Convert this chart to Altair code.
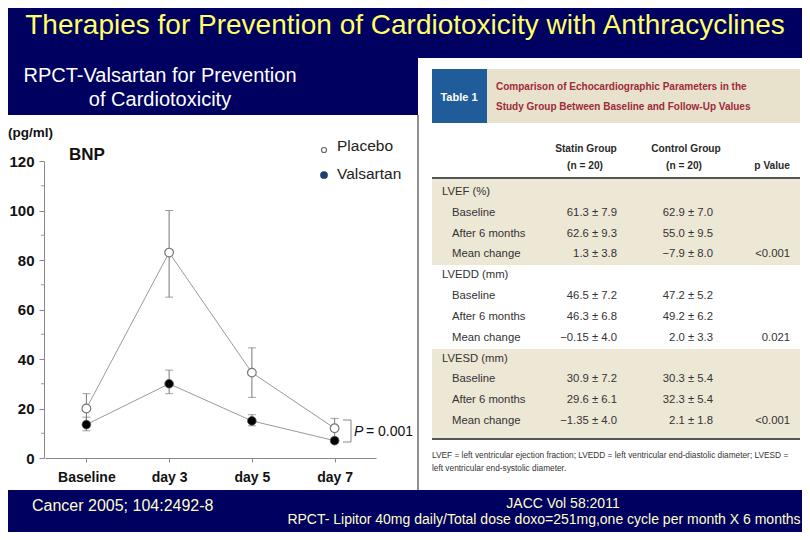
import altair as alt
import pandas as pd

# ---------------- data ----------------
TIMEPOINTS = ["Baseline", "day 3", "day 5", "day 7"]
PLACEBO_MEAN = [20, 83, 34.5, 12]
PLACEBO_LO = [14, 65, 24.5, 8]
PLACEBO_HI = [26, 100, 44.5, 16]
VALSARTAN_MEAN = [13.5, 30, 15, 7]
VALSARTAN_LO = [11, 26, 13, 6]
VALSARTAN_HI = [16.5, 35.5, 17.5, 8]
Y_TICKS = [0, 20, 40, 60, 80, 100, 120]
Y_MINOR = [10, 30, 50, 70, 90, 110]

TABLE_LABELS = ["LVEF (%)", "Baseline", "After 6 months", "Mean change",
                "LVEDD (mm)", "Baseline", "After 6 months", "Mean change",
                "LVESD (mm)", "Baseline", "After 6 months", "Mean change"]
TABLE_STATIN = ["", "61.3 ± 7.9", "62.6 ± 9.3", "1.3 ± 3.8",
                "", "46.5 ± 7.2", "46.3 ± 6.8", "−0.15 ± 4.0",
                "", "30.9 ± 7.2", "29.6 ± 6.1", "−1.35 ± 4.0"]
TABLE_CONTROL = ["", "62.9 ± 7.0", "55.0 ± 9.5", "−7.9 ± 8.0",
                 "", "47.2 ± 5.2", "49.2 ± 6.2", "2.0 ± 3.3",
                 "", "30.3 ± 5.4", "32.3 ± 5.4", "2.1 ± 1.8"]
TABLE_P = ["", "", "", "<0.001", "", "", "", "0.021", "", "", "", "<0.001"]

# ---------------- styles ----------------
NAVY = "#000060"
NARROW = "Liberation Sans Narrow, Arial Narrow, Liberation Sans, Arial, sans-serif"
ARIAL = "Liberation Sans, Arial, sans-serif"
W, H = 794, 524

one = pd.DataFrame({"a": [0]})


def rect(x1, x2, y1, y2, color):
    return alt.Chart(one).mark_rect(color=color).encode(
        x=alt.value(x1), x2=alt.value(x2), y=alt.value(y1), y2=alt.value(y2))


def rule(x1, x2, y1, y2, color, width=1):
    return alt.Chart(one).mark_rule(color=color, strokeWidth=width).encode(
        x=alt.value(x1), x2=alt.value(x2), y=alt.value(y1), y2=alt.value(y2))


def txt(s, x, y, size, color, font=ARIAL, weight="normal", align="left", style="normal"):
    return alt.Chart(one).mark_text(
        text=s, align=align, baseline="middle", fontSize=size, font=font,
        fontWeight=weight, fontStyle=style, color=color).encode(
        x=alt.value(x), y=alt.value(y))


layers = []

# panels
layers.append(rect(0, 410, 107, 482, "white"))
layers.append(rect(410, 799, 50, 482, "white"))
layers.append(rule(410, 410, 107, 482, "#222222", 1))

# ---------------- table ----------------
layers.append(rect(424, 479, 61, 115, "#1f5c99"))
layers.append(rect(479, 792, 61, 115, "#e8e1cc"))
layers.append(txt("Table 1", 451, 90, 11, "white", NARROW, "bold", "center"))
layers.append(txt("Comparison of Echocardiographic Parameters in the", 488, 79, 10, "#9e2a3a", NARROW, "bold"))
layers.append(txt("Study Group Between Baseline and Follow-Up Values", 488, 99, 10, "#9e2a3a", NARROW, "bold"))

HDR = 10.2
layers.append(txt("Statin Group", 578, 141, HDR, "#2a2a2a", NARROW, "bold", "center"))
layers.append(txt("(n = 20)", 577, 158, HDR, "#2a2a2a", NARROW, "bold", "center"))
layers.append(txt("Control Group", 678, 141, HDR, "#2a2a2a", NARROW, "bold", "center"))
layers.append(txt("(n = 20)", 676, 158, HDR, "#2a2a2a", NARROW, "bold", "center"))
layers.append(txt("p Value", 782, 158, HDR, "#2a2a2a", NARROW, "bold", "right"))

layers.append(rect(424, 792, 171, 257, "#ede7d6"))
layers.append(rect(424, 792, 341, 430, "#ede7d6"))
layers.append(rule(424, 792, 170, 170, "#555555", 2))
layers.append(rule(424, 792, 431, 431, "#555555", 2))

table = pd.DataFrame({
    "row": list(range(len(TABLE_LABELS))),
    "label": TABLE_LABELS,
    "statin": TABLE_STATIN,
    "control": TABLE_CONTROL,
    "p": TABLE_P,
})
row_y = alt.Y("row:Q", scale=alt.Scale(domain=[0, 11], range=[184, 413]), axis=None)
tbl_text = dict(baseline="middle", fontSize=11.3, font=NARROW, color="#333333")
groups = table[table["statin"] == ""]
subs = table[table["statin"] != ""]
layers.append(alt.Chart(groups).mark_text(align="left", **tbl_text).encode(
    x=alt.value(434), y=row_y, text="label:N"))
layers.append(alt.Chart(subs).mark_text(align="left", **tbl_text).encode(
    x=alt.value(444), y=row_y, text="label:N"))
layers.append(alt.Chart(table).mark_text(align="right", **tbl_text).encode(
    x=alt.value(609), y=row_y, text="statin:N"))
layers.append(alt.Chart(table).mark_text(align="right", **tbl_text).encode(
    x=alt.value(705), y=row_y, text="control:N"))
layers.append(alt.Chart(table).mark_text(align="right", **tbl_text).encode(
    x=alt.value(782), y=row_y, text="p:N"))

layers.append(txt("LVEF = left ventricular ejection fraction; LVEDD = left ventricular end-diastolic diameter; LVESD =",
                  424, 448, 8.3, "#333333", NARROW))
layers.append(txt("left ventricular end-systolic diameter.", 424, 461, 8.3, "#333333", NARROW))

# ---------------- BNP chart ----------------
bnp = pd.DataFrame({
    "time": TIMEPOINTS * 2,
    "group": ["Placebo"] * 4 + ["Valsartan"] * 4,
    "mean": PLACEBO_MEAN + VALSARTAN_MEAN,
    "lo": PLACEBO_LO + VALSARTAN_LO,
    "hi": PLACEBO_HI + VALSARTAN_HI,
})
placebo = bnp[bnp["group"] == "Placebo"]
valsartan = bnp[bnp["group"] == "Valsartan"]

x_scale = alt.Scale(type="point", domain=TIMEPOINTS, range=[37, 368], padding=0.5)
y_scale = alt.Scale(domain=[0, 120], range=[450, 153])
X_noaxis = alt.X("time:N", scale=x_scale, axis=None)

ax_x = alt.Axis(orient="bottom", offset=-74, title=None, labelAngle=0, zindex=1,
                labelFont=NARROW, labelFontSize=14, labelFontWeight="bold",
                labelColor="#111111", labelPadding=8, tickSize=4, tickColor="#888888",
                domainColor="#888888", grid=False)
ax_y = alt.Axis(orient="left", offset=-36, title=None, values=Y_TICKS, zindex=1,
                labelFont=NARROW, labelFontSize=15, labelFontWeight="bold",
                labelColor="#111111", labelPadding=5, tickSize=5, tickColor="#888888",
                domainColor="#888888", grid=False)

# minor ticks
minor = pd.DataFrame({"v": Y_MINOR})
layers.append(alt.Chart(minor).mark_rule(color="#999999").encode(
    x=alt.value(33), x2=alt.value(36), y=alt.Y("v:Q", scale=y_scale, axis=None)))

# error bars
for df in (placebo, valsartan):
    layers.append(alt.Chart(df).mark_rule(color="#777777", strokeWidth=1).encode(
        x=X_noaxis, y=alt.Y("lo:Q", scale=y_scale, axis=None), y2="hi:Q"))
    for col in ("lo", "hi"):
        layers.append(alt.Chart(df).mark_tick(color="#777777", size=8, thickness=1,
                                              orient="horizontal").encode(
            x=X_noaxis, y=alt.Y(f"{col}:Q", scale=y_scale, axis=None)))

# lines (axes attached here)
layers.append(alt.Chart(bnp).mark_line(color="#999999", strokeWidth=1).encode(
    x=alt.X("time:N", scale=x_scale, axis=ax_x, sort=TIMEPOINTS),
    y=alt.Y("mean:Q", scale=y_scale, axis=ax_y),
    detail="group:N"))

layers.append(alt.Chart(placebo).mark_point(shape="circle", filled=True, fill="white",
                                            stroke="#777777", strokeWidth=1.2, size=75,
                                            opacity=1).encode(
    x=X_noaxis, y=alt.Y("mean:Q", scale=y_scale, axis=None)))
layers.append(alt.Chart(valsartan).mark_point(shape="circle", filled=True, fill="black",
                                              stroke="#555555", strokeWidth=0.8, size=75,
                                              opacity=1).encode(
    x=X_noaxis, y=alt.Y("mean:Q", scale=y_scale, axis=None)))

# annotations in the chart panel
layers.append(txt("(pg/ml)", 0, 125, 13.5, "#111111", NARROW, "bold"))
layers.append(txt("BNP", 61, 147, 17, "#111111", NARROW, "bold"))
layers.append(alt.Chart(one).mark_point(shape="circle", filled=False, color="#222222",
                                        size=26, strokeWidth=1.1).encode(
    x=alt.value(316), y=alt.value(142)))
layers.append(txt("Placebo", 329, 138, 15.5, "#222222"))
layers.append(alt.Chart(one).mark_circle(color="#1c3f6e", size=60, opacity=1).encode(
    x=alt.value(316), y=alt.value(167)))
layers.append(txt("Valsartan", 329, 166, 15.5, "#222222"))

layers.append(rule(335, 343, 412, 412, "#888888", 1))
layers.append(rule(343, 343, 412, 434, "#888888", 1))
layers.append(rule(335, 343, 434, 434, "#888888", 1))
layers.append(txt("P", 346, 424, 14, "#111111", NARROW, "normal", "left", "italic"))
layers.append(txt("= 0.001", 358, 424, 14, "#111111", NARROW))

# ---------------- slide texts ----------------
layers.append(txt("Therapies for Prevention of Cardiotoxicity with Anthracyclines",
                  397, 18, 28, "#ffff66", ARIAL, "normal", "center"))
layers.append(txt("RPCT-Valsartan for Prevention", 152, 68, 20, "white", NARROW, "normal", "center"))
layers.append(txt("of Cardiotoxicity", 152, 92, 20, "white", NARROW, "normal", "center"))
layers.append(txt("Cancer 2005; 104:2492-8", 24, 498, 16, "#ffffcc", NARROW))
layers.append(txt("JACC Vol 58:2011", 555, 496, 14, "#ffffcc", NARROW, "normal", "center"))
layers.append(txt("RPCT- Lipitor 40mg daily/Total dose doxo=251mg,one cycle per month X 6 months",
                  536, 512, 14, "#ffffcc", NARROW, "normal", "center"))

chart = alt.layer(*layers).properties(
    width=W, height=H, background=NAVY, padding=0,
    autosize=alt.AutoSizeParams(type="none"),
).resolve_scale(x="independent", y="independent").configure_view(stroke=None)

chart.save("out.html", embed_options={"renderer": "svg", "actions": False})
